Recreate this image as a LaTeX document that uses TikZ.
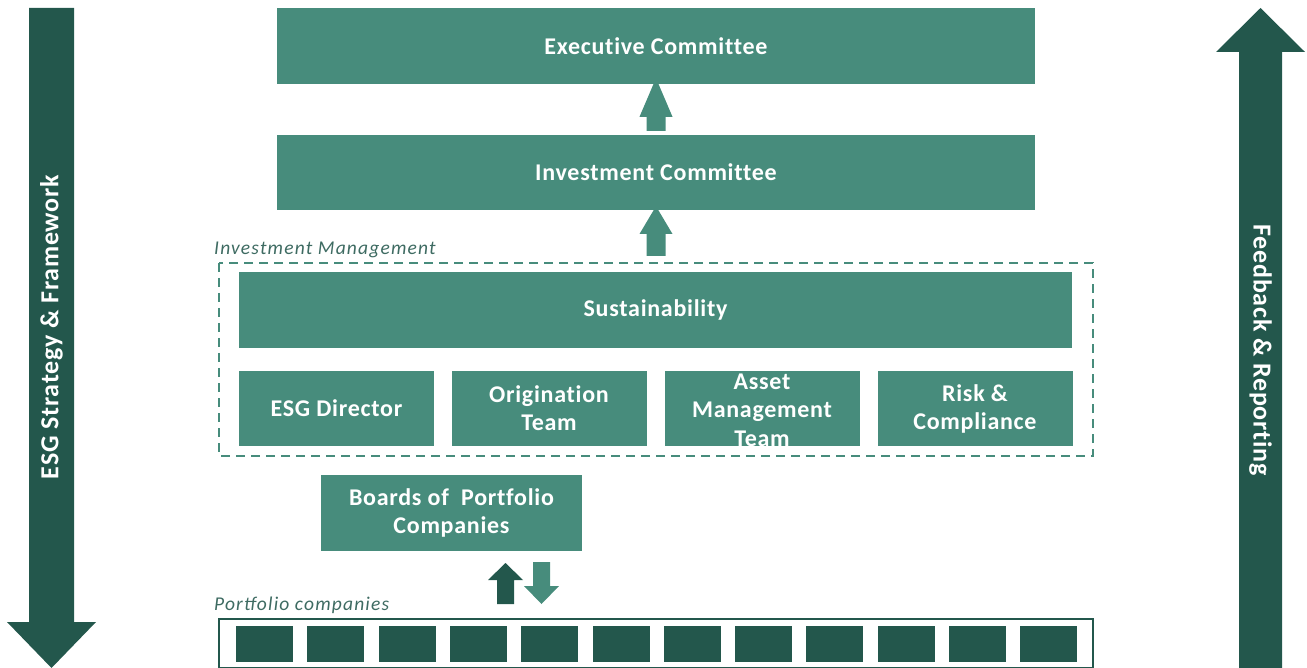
\documentclass[tikz,border=0pt]{standalone}
\usepackage{fontspec}
\setmainfont{Carlito}
\newfontfamily\boxfont[LetterSpace=3,Ligatures=NoCommon]{Carlito}
\newfontfamily\labfont[LetterSpace=6]{Carlito}
\usetikzlibrary{calc}
\definecolor{midg}{HTML}{478C7C}
\definecolor{darkg}{HTML}{23574C}
\definecolor{labg}{HTML}{3E6B62}
\tikzset{
  box/.style={fill=midg, draw=none, text=white, font=\boxfont\bfseries\fontsize{24}{28}\selectfont, align=center, inner sep=0pt},
  pcbox/.style={fill=darkg, draw=none, minimum width=57pt, minimum height=36pt, inner sep=0pt},
  grouplabel/.style={font=\labfont\itshape\fontsize{19.5}{22}\selectfont, text=labg, anchor=south west, inner sep=0pt},
  bigtext/.style={text=white, font=\boxfont\bfseries\fontsize{26}{28}\selectfont, inner sep=0pt}
}
\begin{document}
\begin{tikzpicture}[x=1pt,y=-1pt]
\useasboundingbox (0,0) rectangle (1307,668);
% side arrows
\fill[darkg] (29,8) -- (74,8) -- (74,622) -- (96,622) -- (51.5,668) -- (7,622) -- (29,622) -- cycle;
\node[bigtext, rotate=90] (esg) at (51.5,327) {ESG Strategy \& Framework};
\fill[darkg] (1239,668) -- (1239,52) -- (1216,52) -- (1260.5,8) -- (1305,52) -- (1282,52) -- (1282,668) -- cycle;
\node[bigtext, rotate=-90] (fb) at (1260.5,350) {Feedback \& Reporting};
% committees
\node[box, minimum width=758pt, minimum height=76pt] (exec) at (656,46) {Executive Committee};
\node[box, minimum width=758pt, minimum height=75pt] (inv) at (656,172.5) {Investment Committee};
% block arrows between committees
\fill[midg] ($(inv.north)+(-9.5,-4)$) -- ++(0,-14) -- ++(-7,0) -- ($(exec.south)+(0,-6)$) -- ($(inv.north)+(16.5,-18)$) -- ++(-7,0) -- ++(0,14) -- cycle;
\coordinate (imtop) at (656,263);
\fill[midg] ($(imtop)+(-9.5,-7)$) -- ++(0,-22) -- ++(-7,0) -- ($(inv.south)+(0,-4)$) -- ($(imtop)+(16.5,-29)$) -- ++(-7,0) -- ++(0,22) -- cycle;
% investment management group
\draw[midg, line width=2pt, dash pattern=on 9pt off 6pt] (219,263) rectangle (1093,456);
\node[grouplabel] (iml) at (214,258) {Investment Management};
\node[box, minimum width=833pt, minimum height=76pt] (sust) at (655.5,310) {Sustainability};
\node[box, minimum width=195pt, minimum height=75pt] (esgd) at (336.5,408.5) {ESG Director};
\node[box, minimum width=195pt, minimum height=75pt] (orig) at (549,408.5) {Origination\\Team};
\node[box, minimum width=195pt, minimum height=75pt] (asset) at (762,408.5) {};
\node[text=white, font=\boxfont\bfseries\fontsize{24}{28.5}\selectfont, align=center, inner sep=0pt] (assettxt) at (762,410) {Asset\\Management\\Team};
\node[box, minimum width=195pt, minimum height=75pt] (risk) at (975,408.5) {Risk \&\\Compliance};
% boards
\node[box, minimum width=261pt, minimum height=76pt] (boards) at (451.5,513) {Boards of~ Portfolio\\Companies};
% portfolio companies
\node[grouplabel] (pcl) at (214,614) {Portfolio companies};
\draw[darkg, line width=2pt] (219,619) rectangle (1093,668);
\foreach \i in {0,...,11}{
  \node[pcbox] (pc\i) at ({264.5+\i*71.3},644) {};
}
% up/down arrows
\fill[darkg] (497,604) -- (497,580) -- (488,580) -- (505.5,563) -- (523,580) -- (514,580) -- (514,604) -- cycle;
\fill[midg] (533,562) -- (550,562) -- (550,586) -- (559,586) -- (541.5,604) -- (524,586) -- (533,586) -- cycle;
\end{tikzpicture}
\end{document}
